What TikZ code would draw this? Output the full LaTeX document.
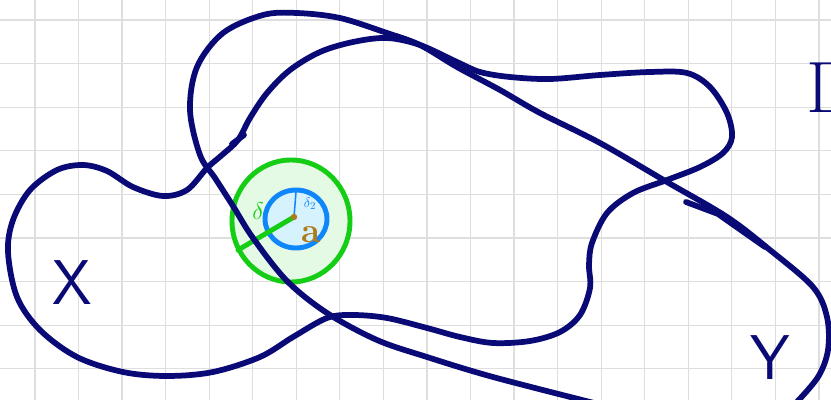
\documentclass[tikz,border=0pt]{standalone}
\usepackage{amsmath,amssymb}
\usepackage{xcolor}
\usepackage{tikz}
\usetikzlibrary{positioning}

\definecolor{inkblue}{RGB}{10,10,118}
\definecolor{penGreen}{RGB}{20,205,20}
\definecolor{penBlue}{RGB}{15,135,250}
\definecolor{penBrown}{RGB}{176,122,30}
\definecolor{gridgray}{RGB}{222,222,222}

\begin{document}
\begin{tikzpicture}[
    x=0.03cm, y=-0.03cm,
    gridline/.style={gridgray, line width=1.1pt},
    ink/.style={inkblue, line width=4.9pt, line cap=round, line join=round},
    setname/.style={inkblue, font=\sffamily\fontsize{54}{54}\selectfont, inner sep=0pt},
    ball/.style={draw=penGreen, line width=4.2pt, fill=penGreen!11},
    innerball/.style={draw=penBlue, line width=4.2pt, fill=cyan!16!white}
]
\useasboundingbox (0,0) rectangle (831,400);
\clip (0,0) rectangle (831,400);
\fill[white] (0,0) rectangle (831,400);

% Grid
\foreach \i in {0,...,18}
    \draw[gridline] (35+43.55*\i,0) -- (35+43.55*\i,400);
\foreach \j in {0,...,8}
    \draw[gridline] (0,20+43.6*\j) -- (831,20+43.6*\j);

% Balls around a
\coordinate (ctr) at (294,217);
\coordinate (rim) at (238,250);
\coordinate (top) at (296,192);
\draw[ball] (291,221) ellipse [x radius=59, y radius=61];
\draw[innerball] (296,219) ellipse [x radius=31, y radius=29];
\draw[penGreen, line width=4.2pt, line cap=round] (ctr) -- (rim);
\draw[penBlue, line width=1.3pt] (ctr) -- (top);
\fill[penBrown] (ctr) circle (3.2);

% Set X
\draw[ink] plot[smooth cycle, tension=0.55] coordinates {
    (238,140) (222,155) (207,168) (187,190) (163,196) (133,187)
    (107,171) (83,165) (57,170) (30,190) (13,220) (8,252) (17,297)
    (40,330) (77,357) (123,372) (167,376) (213,372) (260,357)
    (293,337) (327,318) (353,315) (387,318) (427,328) (460,337)
    (493,343) (530,341) (560,332) (580,315) (590,288) (589,265)
    (592,243) (607,213) (633,193) (667,180) (700,167) (723,153)
    (732,137) (727,113) (710,87) (687,73) (650,72) (600,75)
    (550,79) (510,77) (480,72) (457,62) (420,45) (387,38) (353,42)
    (320,52) (290,70) (267,93) (250,118)};
\draw[ink] (232,144) -- (244,135);

% Set Y
\draw[ink] plot[smooth, tension=0.55] coordinates {
    (795,404) (818,377) (828,350) (827,317) (813,287) (770,250)
    (727,217) (667,182) (600,143) (540,113) (500,90) (457,67)
    (420,45) (387,33) (340,18) (297,13) (263,15) (223,33) (197,67)
    (190,110) (200,155) (215,178) (233,206) (253,238) (287,281)
    (327,313) (377,340) (427,357) (493,377) (598,404)};
\draw[ink] (686,202) -- (718,214) -- (765,247);

% Labels
\node[setname] (xname) at (72,283) {X};
\node[setname] (yname) at (770,358) {Y};
\node[inkblue, font=\fontsize{62}{62}\selectfont, anchor=west, inner sep=0pt] (dname) at (806,88) {D};
\node[penGreen, font=\fontsize{20}{20}\selectfont, inner sep=0pt] (delta) at (258,211) {$\delta$};
\node[penBlue, font=\fontsize{13}{13}\selectfont, inner sep=0pt] (delta2) at (310,204) {$\delta_2$};
\node[penBrown, font=\bfseries\fontsize{30}{30}\selectfont, inner sep=0pt] (aname) at (311,235) {a};

\end{tikzpicture}
\end{document}
